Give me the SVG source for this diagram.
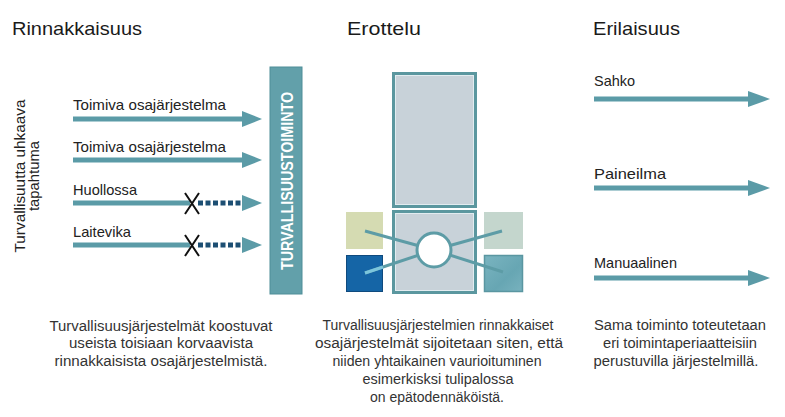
<svg xmlns="http://www.w3.org/2000/svg" width="785" height="417" viewBox="0 0 785 417">
<defs>
<style>
.title{font-family:"Liberation Sans",Arial,sans-serif;font-size:19px;fill:#1a1a1a;}
.lbl{font-family:"Liberation Sans",Arial,sans-serif;font-size:14.5px;fill:#222;}
.body{font-family:"Liberation Sans",Arial,sans-serif;font-size:14px;fill:#333;text-anchor:middle;}
.shaft{stroke:#5b9ba7;stroke-width:5;fill:none;}
.head{fill:#5b9ba7;}
.dash{stroke:#1d4f73;stroke-width:5;stroke-dasharray:5 2.5;fill:none;}
.x{stroke:#111;stroke-width:2;fill:none;}
.box{fill:#c8d2d9;stroke:#5b979f;stroke-width:3;}
.inner{fill:none;stroke:#e2ecf0;stroke-width:1;}
.link{stroke:#5d9ca6;stroke-width:3;fill:none;}
</style>
<linearGradient id="g1" x1="0" y1="0" x2="1" y2="1">
<stop offset="0" stop-color="#7ab4c0"/>
<stop offset="0.6" stop-color="#67a6b3"/>
<stop offset="1" stop-color="#78b2be"/>
</linearGradient>
</defs>
<rect width="785" height="417" fill="#fff"/>

<g id="titles">
<text class="title" x="12" y="35" textLength="130" lengthAdjust="spacingAndGlyphs">Rinnakkaisuus</text>
<text class="title" x="347" y="35" textLength="74" lengthAdjust="spacingAndGlyphs">Erottelu</text>
<text class="title" x="593" y="35" textLength="87" lengthAdjust="spacingAndGlyphs">Erilaisuus</text>
</g>

<g id="threat-label">
<text class="lbl" font-size="15" transform="translate(25,176) rotate(-90)" text-anchor="middle" textLength="153" lengthAdjust="spacingAndGlyphs">Turvallisuutta uhkaava</text>
<text class="lbl" font-size="15" transform="translate(39,176) rotate(-90)" text-anchor="middle" textLength="70" lengthAdjust="spacingAndGlyphs">tapahtuma</text>
</g>

<g id="safety-function">
<rect x="270" y="67" width="32" height="227" fill="#62a0aa" stroke="#4f8e98" stroke-width="1"/>
<text transform="translate(293,181) rotate(-90)" text-anchor="middle" font-family="Liberation Sans,Arial,sans-serif" font-weight="bold" font-size="17" fill="#fff" textLength="178" lengthAdjust="spacingAndGlyphs">TURVALLISUUSTOIMINTO</text>
</g>

<g id="left-labels">
<text class="lbl" x="73" y="110" textLength="153" lengthAdjust="spacingAndGlyphs">Toimiva osajärjestelma</text>
<text class="lbl" x="73" y="152" textLength="153" lengthAdjust="spacingAndGlyphs">Toimiva osajärjestelma</text>
<text class="lbl" x="73" y="195" textLength="64" lengthAdjust="spacingAndGlyphs">Huollossa</text>
<text class="lbl" x="73" y="237" textLength="58" lengthAdjust="spacingAndGlyphs">Laitevika</text>
</g>

<g id="connectors">
<line class="shaft" x1="73" y1="119" x2="244" y2="119"/>
<polygon class="head" points="242,111 262,119 242,127"/>
<line class="shaft" x1="73" y1="160" x2="244" y2="160"/>
<polygon class="head" points="242,152 262,160 242,168"/>
<line class="shaft" x1="73" y1="203" x2="190" y2="203"/>
<line class="dash" x1="198" y1="203" x2="242" y2="203"/>
<polygon class="head" points="242,195 262,203 242,211"/>
<line class="shaft" x1="73" y1="245" x2="190" y2="245"/>
<line class="dash" x1="198" y1="245" x2="242" y2="245"/>
<polygon class="head" points="242,237 262,245 242,253"/>
<path class="x" d="M185,193 L199,214 M199,193 L185,214"/>
<path class="x" d="M185,235 L199,256 M199,235 L185,256"/>

<line class="shaft" x1="594" y1="99" x2="750" y2="99"/>
<polygon class="head" points="748,91 770,99 748,107"/>
<line class="shaft" x1="594" y1="188" x2="750" y2="188"/>
<polygon class="head" points="748,180 770,188 748,196"/>
<line class="shaft" x1="594" y1="278" x2="750" y2="278"/>
<polygon class="head" points="748,270 770,278 748,286"/>
</g>

<g id="right-labels">
<text class="lbl" x="594" y="86" textLength="41" lengthAdjust="spacingAndGlyphs">Sahko</text>
<text class="lbl" x="594" y="179" textLength="72" lengthAdjust="spacingAndGlyphs">Paineilma</text>
<text class="lbl" x="594" y="268" textLength="83" lengthAdjust="spacingAndGlyphs">Manuaalinen</text>
</g>

<g id="separation">
<g id="upper-room">
<rect class="box" x="393.5" y="73.5" width="82" height="133"/>
<rect class="inner" x="395.5" y="75.5" width="78" height="129"/>
</g>
<g id="lower-room">
<rect class="box" x="393.5" y="211.5" width="82" height="81"/>
<rect class="inner" x="395.5" y="213.5" width="78" height="77"/>
</g>
<rect id="sq-lt" x="346" y="212" width="37" height="37" fill="#d5dbb2"/>
<rect id="sq-lb" x="346.5" y="255.5" width="36" height="36" fill="#1565a6" stroke="#0f4a7e" stroke-width="1"/>
<rect id="sq-rt" x="484" y="212" width="39" height="37" fill="#c4d6cd"/>
<rect id="sq-rb" x="484.5" y="255.5" width="38" height="36" fill="url(#g1)" stroke="#5a96a1" stroke-width="1.5"/>
<g id="links">
<line class="link" x1="365" y1="231" x2="434" y2="250"/>
<line class="link" x1="365" y1="273" x2="434" y2="250"/>
<line x1="365" y1="273" x2="383" y2="267" stroke="#7cc6dc" stroke-width="3"/>
<line class="link" x1="502" y1="231" x2="434" y2="250"/>
<line class="link" x1="503" y1="272" x2="434" y2="250"/>
</g>
<circle id="hub" cx="434" cy="250" r="17" fill="#fff" stroke="#5d9ca6" stroke-width="3"/>
</g>

<g id="captions">
<text class="body" x="161" y="331" textLength="223" lengthAdjust="spacingAndGlyphs">Turvallisuusjärjestelmät koostuvat</text>
<text class="body" x="161" y="348" textLength="184" lengthAdjust="spacingAndGlyphs">useista toisiaan korvaavista</text>
<text class="body" x="161" y="366" textLength="213" lengthAdjust="spacingAndGlyphs">rinnakkaisista osajärjestelmistä.</text>

<text class="body" x="438" y="330" textLength="231" lengthAdjust="spacingAndGlyphs">Turvallisuusjärjestelmien rinnakkaiset</text>
<text class="body" x="439" y="348" textLength="248" lengthAdjust="spacingAndGlyphs">osajärjestelmät sijoitetaan siten, että</text>
<text class="body" x="437" y="366" textLength="209" lengthAdjust="spacingAndGlyphs">niiden yhtaikainen vaurioituminen</text>
<text class="body" x="438" y="384" textLength="151" lengthAdjust="spacingAndGlyphs">esimerkisksi tulipalossa</text>
<text class="body" x="437" y="402" textLength="134" lengthAdjust="spacingAndGlyphs">on epätodennäköistä.</text>

<text class="body" x="680" y="330" textLength="172" lengthAdjust="spacingAndGlyphs">Sama toiminto toteutetaan</text>
<text class="body" x="680" y="348" textLength="154" lengthAdjust="spacingAndGlyphs">eri toimintaperiaatteisiin</text>
<text class="body" x="676" y="366" textLength="165" lengthAdjust="spacingAndGlyphs">perustuvilla järjestelmillä.</text>
</g>
</svg>
